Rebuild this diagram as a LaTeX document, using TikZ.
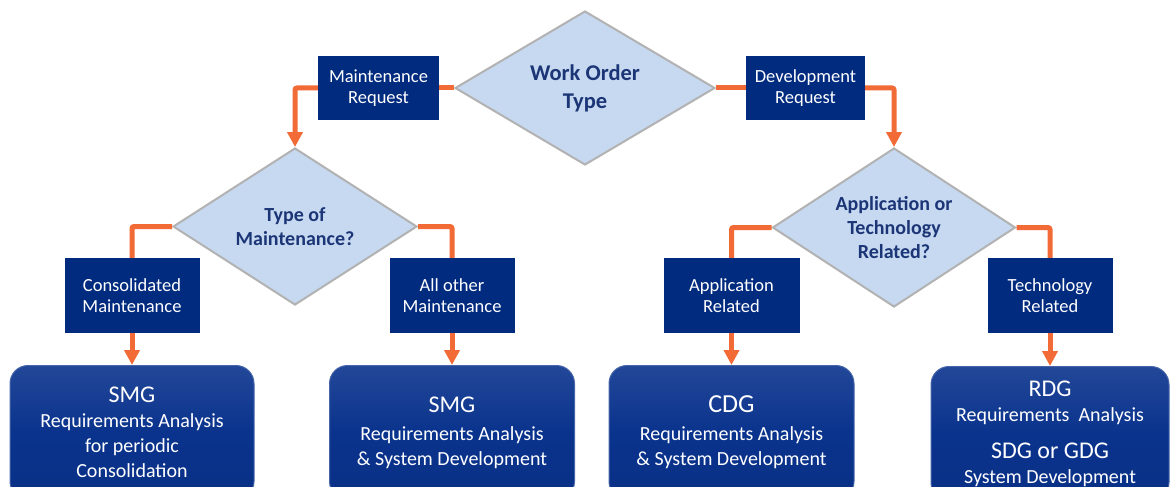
\documentclass[tikz,border=0pt]{standalone}
\usepackage{fontspec}
\setmainfont{Carlito}
\usetikzlibrary{arrows.meta}
\usetikzlibrary{shapes.geometric}
\tikzset{>={Triangle[length=15pt, width=15pt]}}
\definecolor{navybox}{HTML}{002B7F}
\definecolor{groupbox}{HTML}{0A338D}
\definecolor{diafill}{HTML}{C6D9F1}
\definecolor{diatext}{HTML}{1B3576}
\definecolor{flowline}{HTML}{F26A35}

\begin{document}
\begin{tikzpicture}[x = 1pt, y = -1pt, font = {\fontsize{18.5}{21}\selectfont},
	decision/.style = {diamond, draw = gray!60, line width = 2pt, fill = diafill, text = diatext, align = center, inner sep = 0pt, aspect = 1.6, font = {\bfseries\fontsize{20}{24}\selectfont}},
	choice/.style = {rectangle, fill = navybox, text = white, align = center, minimum height = 75pt},
	group/.style = {rectangle, rounded corners = 18pt, top color = groupbox!90!white, bottom color = groupbox!95!black, middle color = groupbox, draw = groupbox!75!white, line width = 1pt, text = white, align = center, anchor = north, minimum height = 134pt, font = {\fontsize{20}{25}\selectfont}},
	flow/.style = {draw = flowline, line width = 5pt, rounded corners = 2pt}]

\useasboundingbox (0,0) rectangle (1171,487);
\clip (0,0) rectangle (1171,487);

\node[decision, minimum width = 260pt, minimum height = 154pt, font = {\bfseries\fontsize{22.5}{28}\selectfont}] (WOT) at (585, 88) {Work Order \\ Type};
\node[choice, minimum width = 121pt, minimum height = 64pt] (MR) at (378.5, 88) {Maintenance \\ Request};
\node[choice, minimum width = 119pt, minimum height = 64pt] (DR) at (805.5, 88) {Development \\ Request};

\node[decision, minimum width = 244pt, minimum height = 157pt] (TOM) at (295, 226.5) {Type of \\ Maintenance?};
\node[decision, minimum width = 243pt, minimum height = 159pt] (ATR) at (894, 227.5) {Application or \\ Technology \\ Related?};

\node[choice, minimum width = 135pt] (CM) at (132, 295.5) {Consolidated \\ Maintenance};
\node[choice, minimum width = 125pt] (AOM) at (452, 295.5) {All other \\ Maintenance};
\node[choice, minimum width = 136pt] (AR) at (731.5, 295.5) {Application \\ Related};
\node[choice, minimum width = 125pt] (TR) at (1050, 295.5) {Technology \\ Related};

\node[group, minimum width = 244pt] (SMGA) at (132, 365) {{\fontsize{24}{25}\selectfont SMG} \\ Requirements Analysis \\ for periodic \\ Consolidation};
\node[group, minimum width = 245pt] (SMGB) at (452, 365) {{\fontsize{24}{25}\selectfont SMG} \\[3pt] Requirements Analysis \\ \& System Development};
\node[group, minimum width = 245pt] (CDG) at (731.5, 365) {{\fontsize{26}{25}\selectfont CDG} \\[3pt] Requirements Analysis \\ \& System Development};
\node[group, minimum width = 238pt] (RDG) at (1050, 366) {{\fontsize{24}{25}\selectfont RDG} \\ Requirements\ \ Analysis \\[12pt] {\fontsize{24}{25}\selectfont SDG or GDG} \\ System Development};

\draw[flow] (WOT.west) -- (MR.east);
\draw[flow, ->] (MR.west) -| (TOM.north);
\draw[flow] (WOT.east) -- (DR.west);
\draw[flow, ->] (DR.east) -| (ATR.north);

\draw[flow] (TOM.west) -| (CM.north);
\draw[flow] (TOM.east) -| (AOM.north);
\draw[flow] (ATR.west) -| (AR.north);
\draw[flow] (ATR.east) -| (TR.north);

\draw[flow, ->] (CM) -- (SMGA);
\draw[flow, ->] (AOM) -- (SMGB);
\draw[flow, ->] (AR) -- (CDG);
\draw[flow, ->] (TR) -- (RDG);
\end{tikzpicture}
\end{document}
